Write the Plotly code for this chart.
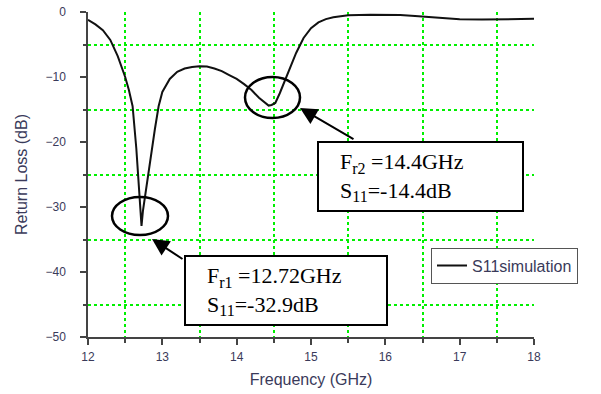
import plotly.graph_objects as go

# ---- data ----
freq_ghz = [12.0, 12.1, 12.2, 12.3, 12.4, 12.5, 12.55, 12.6, 12.65, 12.68, 12.7, 12.72,
            12.74, 12.77, 12.8, 12.85, 12.9, 12.95, 13.0, 13.1, 13.2, 13.3, 13.4, 13.5,
            13.6, 13.7, 13.8, 13.9, 14.0, 14.1, 14.2, 14.3, 14.38, 14.43, 14.47, 14.52,
            14.58, 14.65, 14.72, 14.8, 14.9, 15.0, 15.1, 15.2, 15.3, 15.5, 15.8, 16.0,
            16.2, 16.4, 16.6, 16.8, 17.0, 17.3, 17.6, 17.8, 18.0]
s11_db = [-1.2, -1.9, -2.8, -4.3, -6.8, -10.0, -12.0, -14.5, -21.0, -26.4, -30.5, -32.9,
          -30.5, -28.0, -26.0, -22.0, -18.0, -14.5, -12.3, -10.3, -9.2, -8.7, -8.45, -8.35,
          -8.4, -8.7, -9.1, -9.7, -10.3, -11.1, -12.0, -13.2, -14.0, -14.4, -14.3, -14.0,
          -12.5, -10.5, -8.3, -6.3, -4.0, -2.5, -1.6, -1.1, -0.8, -0.5, -0.42, -0.42,
          -0.48, -0.6, -0.75, -1.0, -1.12, -1.15, -1.15, -1.12, -1.05]

series_name = "S11simulation"
SUB = "<sub><span style='font-size:16px'>{}</span></sub>"
res1_label = "F" + SUB.format("r1") + " =12.72GHz<br>S" + SUB.format("11") + "=-32.9dB"
res2_label = "F" + SUB.format("r2") + " =14.4GHz<br>S" + SUB.format("11") + "=-14.4dB"

# ---- layout geometry helpers (pixel -> data/paper) ----
L, R, T, B = 88, 534, 12, 337
def dx(px):
    return 12 + (px - L) / (R - L) * 6
def dy(py):
    return -(py - T) / (B - T) * 50
def px_(px):
    return (px - L) / (R - L)
def py_(py):
    return (B - py) / (B - T)

fig = go.Figure()
fig.add_trace(go.Scatter(x=freq_ghz, y=s11_db, mode="lines", name=series_name,
                         line=dict(color="#111111", width=2), showlegend=True))

sans = "Liberation Sans, Arial, sans-serif"
axis_font = dict(family=sans, size=12, color="#3a3a5a")
title_font = dict(family=sans, size=16, color="#3a3a5a")
grid_col = "#00f000"

fig.update_xaxes(range=[12, 18], dtick=1, tick0=12, showgrid=False, zeroline=False,
                 showline=True, linecolor="#444444", linewidth=1.5, automargin=False,
                 ticks="outside", ticklen=6, tickcolor="#444444", tickwidth=1.5,
                 tickfont=axis_font, ticklabelstandoff=2,
                 minor=dict(dtick=0.5, showgrid=True, gridcolor=grid_col, griddash="3px,3px",
                            gridwidth=1.5, ticks="outside", ticklen=4, tickcolor="#444444"),
                 title=dict(text="Frequency (GHz)", font=title_font, standoff=11))
fig.update_yaxes(range=[-50, 0], dtick=10, tick0=0, showgrid=False, zeroline=False,
                 showline=True, linecolor="#444444", linewidth=1.5, automargin=False,
                 ticks="outside", ticklen=6, tickcolor="#444444", tickwidth=1.5,
                 tickfont=axis_font, ticklabelstandoff=12,
                 minor=dict(dtick=5, showgrid=True, gridcolor=grid_col, griddash="3px,3px",
                            gridwidth=1.5, ticks="outside", ticklen=3, tickcolor="#444444"),
                 title=dict(text="Return Loss (dB)", font=title_font, standoff=14))

shapes = []
# resonance ellipses
shapes.append(dict(type="circle", xref="x", yref="y", x0=dx(112), x1=dx(168), y0=dy(197), y1=dy(235),
                   line=dict(color="black", width=2.5)))
shapes.append(dict(type="circle", xref="x", yref="y", x0=dx(245), x1=dx(300), y0=dy(77), y1=dy(118),
                   line=dict(color="black", width=2.5)))
# annotation boxes
shapes.append(dict(type="rect", xref="x", yref="y", x0=dx(318), x1=dx(523), y0=dy(142), y1=dy(211),
                   line=dict(color="black", width=2), fillcolor="white", layer="above"))
shapes.append(dict(type="rect", xref="x", yref="y", x0=dx(185), x1=dx(387), y0=dy(256), y1=dy(325),
                   line=dict(color="black", width=2), fillcolor="white", layer="above"))

serif = dict(family="Liberation Serif, Times New Roman, serif", size=22, color="black")
annotations = [
    dict(x=dx(338), y=dy(176.5), xref="x", yref="y", text=res2_label, showarrow=False,
         xanchor="left", yanchor="middle", align="left", font=serif),
    dict(x=dx(205), y=dy(290.5), xref="x", yref="y", text=res1_label, showarrow=False,
         xanchor="left", yanchor="middle", align="left", font=serif),
    dict(x=dx(152), y=dy(239), ax=dx(184), ay=dy(260), xref="x", yref="y", axref="x", ayref="y",
         text="", showarrow=True, arrowhead=2, arrowsize=1.7, arrowwidth=2, arrowcolor="black"),
    dict(x=dx(300), y=dy(108), ax=dx(355), ay=dy(140), xref="x", yref="y", axref="x", ayref="y",
         text="", showarrow=True, arrowhead=2, arrowsize=1.7, arrowwidth=2, arrowcolor="black"),
]

fig.update_layout(
    width=601, height=394,
    margin=dict(l=L, r=601 - R, t=T, b=394 - B, autoexpand=False),
    paper_bgcolor="white", plot_bgcolor="white",
    shapes=shapes, annotations=annotations,
    showlegend=True,
    legend=dict(x=px_(431), y=py_(265.5), xanchor="left", yanchor="middle",
                bgcolor="white", bordercolor="#555555", borderwidth=1,
                font=dict(family=sans, size=16, color="#3a3a5a"),
                itemwidth=30, tracegroupgap=0),
)

fig.write_html("out.html")
